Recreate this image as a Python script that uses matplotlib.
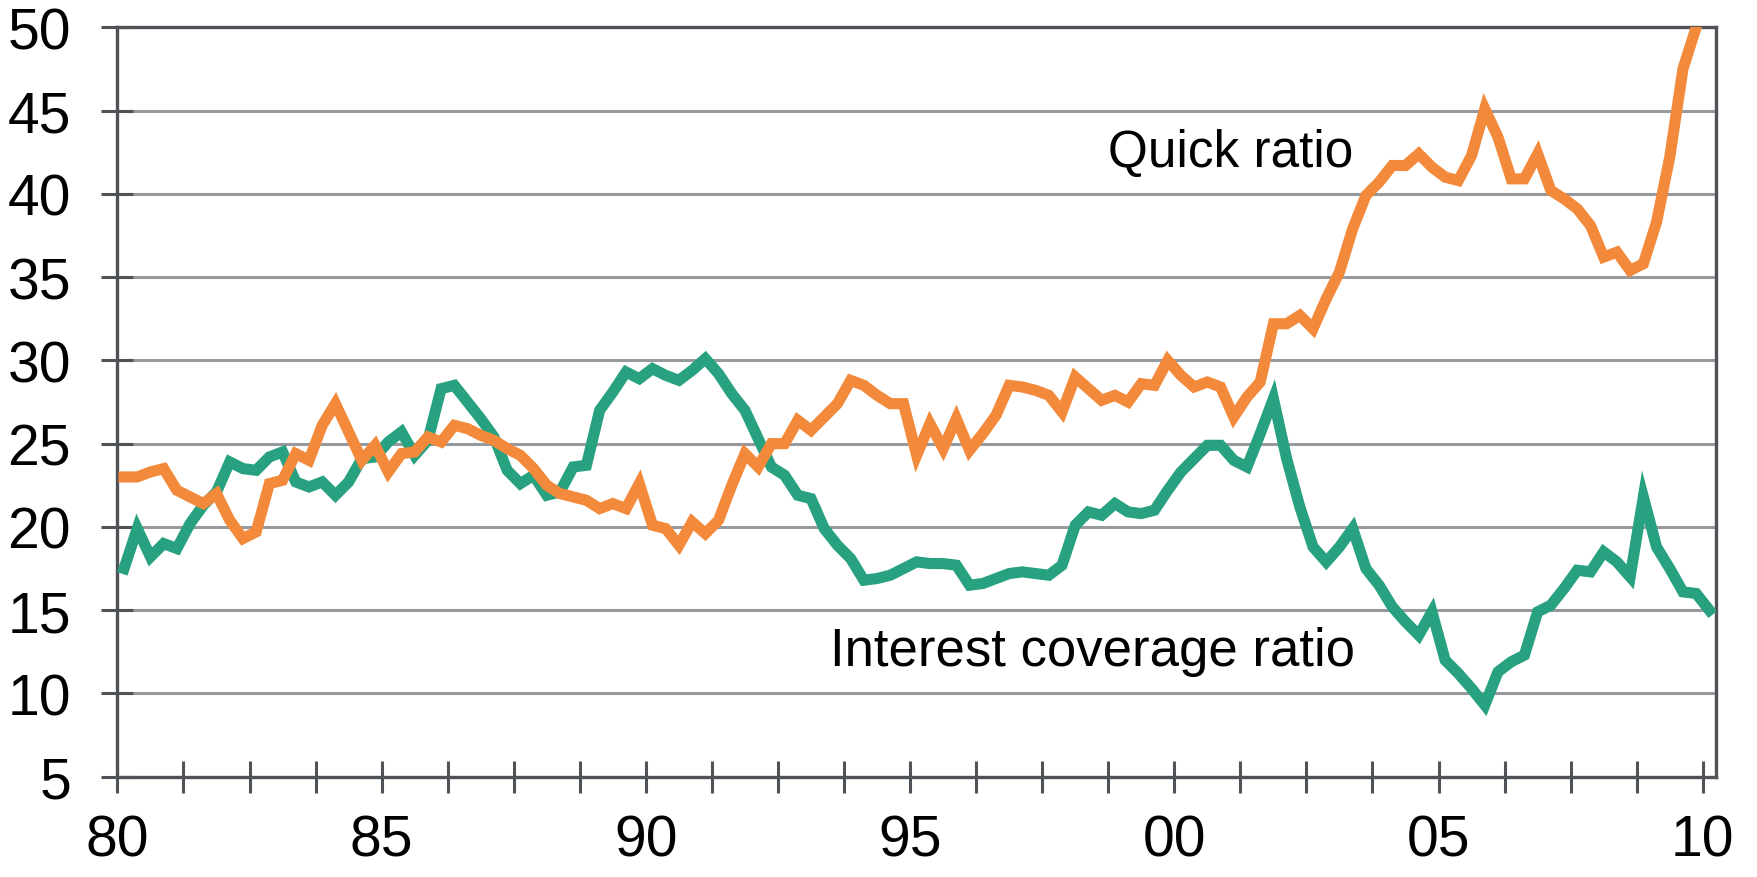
import matplotlib
matplotlib.use("Agg")
import matplotlib.pyplot as plt
import numpy as np

plt.rcParams['font.family'] = ['Liberation Sans', 'DejaVu Sans']

# quarterly, 1980Q1 .. 2010Q1
interest_cov = [17.5, 19.9, 18.2, 19.0, 18.7, 20.2, 21.3, 22.1, 23.9, 23.5,
                23.4, 24.2, 24.5, 22.7, 22.4, 22.7, 21.9, 22.7, 24.1, 24.2,
                25.1, 25.7, 24.3, 25.2, 28.3, 28.5, 27.5, 26.5, 25.4, 23.4,
                22.6, 23.1, 21.9, 22.1, 23.6, 23.7, 27.0, 28.1, 29.3, 28.9,
                29.5, 29.1, 28.8, 29.4, 30.1, 29.2, 28.0, 27.0, 25.3, 23.6,
                23.1, 21.9, 21.7, 19.9, 18.9, 18.1, 16.8, 16.9, 17.1, 17.5,
                17.9, 17.8, 17.8, 17.7, 16.5, 16.6, 16.9, 17.2, 17.3, 17.2,
                17.1, 17.7, 20.1, 20.9, 20.7, 21.4, 20.9, 20.8, 21.0, 22.2,
                23.3, 24.1, 24.9, 24.9, 24.0, 23.6, 25.6, 27.7, 24.1, 21.2,
                18.8, 17.9, 18.8, 19.9, 17.5, 16.5, 15.2, 14.3, 13.5, 14.9,
                12.0, 11.2, 10.3, 9.3, 11.3, 11.9, 12.3, 14.9, 15.3, 16.3,
                17.4, 17.3, 18.5, 17.9, 17.0, 21.8, 18.8, 17.5, 16.1, 16.0,
                15.0]

quick_ratio = [23.0, 23.0, 23.3, 23.5, 22.2, 21.8, 21.4, 22.0, 20.4, 19.3,
               19.7, 22.6, 22.8, 24.4, 24.0, 26.1, 27.4, 25.7, 24.0, 24.9,
               23.3, 24.4, 24.5, 25.4, 25.1, 26.1, 25.9, 25.5, 25.2, 24.7,
               24.3, 23.5, 22.5, 22.0, 21.8, 21.6, 21.1, 21.4, 21.1, 22.6,
               20.1, 19.9, 18.9, 20.3, 19.6, 20.4, 22.5, 24.4, 23.6, 25.0,
               25.0, 26.4, 25.8, 26.6, 27.4, 28.8, 28.5, 27.9, 27.4, 27.4,
               24.3, 26.2, 24.7, 26.5, 24.6, 25.6, 26.7, 28.5, 28.4, 28.2,
               27.9, 26.9, 29.0, 28.3, 27.6, 27.9, 27.5, 28.6, 28.5, 30.0,
               29.1, 28.4, 28.7, 28.4, 26.6, 27.8, 28.7, 32.2, 32.2, 32.7,
               31.9, 33.7, 35.3, 37.9, 39.9, 40.7, 41.7, 41.7, 42.4, 41.6,
               41.0, 40.8, 42.3, 45.1, 43.4, 40.9, 40.9, 42.4, 40.2, 39.7,
               39.1, 38.1, 36.2, 36.5, 35.4, 35.8, 38.3, 42.2, 47.5, 50.0]

year_labels = ['80', '85', '90', '95', '00', '05', '10']
y_ticks = [5, 10, 15, 20, 25, 30, 35, 40, 45, 50]

green = '#27A17F'
orange = '#F38A3B'
axcol = '#4F5256'
gridcol = '#96999D'

fig = plt.figure(figsize=(17.58, 8.78), dpi=100)
ax = fig.add_axes([0.0668, 0.1142, 0.9093, 0.8536])

x_ic = np.arange(len(interest_cov))
x_qr = np.arange(len(quick_ratio))
ax.plot(x_ic, interest_cov, color=green, lw=8.0, solid_joinstyle='miter', zorder=3)
ax.plot(x_qr, quick_ratio, color=orange, lw=8.0, solid_joinstyle='miter', zorder=3)

ax.set_xlim(-0.5, 120.5)
ax.set_ylim(5, 50)

# ticks every 5 quarters, labels every 5 years
tick_pos = np.arange(-0.5, 120, 5)
tick_lab = []
for k in range(len(tick_pos)):
    if k % 4 == 0:
        tick_lab.append(year_labels[k // 4])
    else:
        tick_lab.append('')
ax.set_xticks(tick_pos)
ax.set_xticklabels(tick_lab)
ax.set_yticks(y_ticks)

ax.tick_params(axis='both', direction='inout', length=23, width=2.2,
               color=axcol, labelsize=41, labelcolor='black')
ax.tick_params(axis='x', pad=15)
ax.tick_params(axis='y', pad=22)

ax.grid(axis='y', color=gridcol, lw=2.2, zorder=1)
ax.set_axisbelow(True)
for s in ax.spines.values():
    s.set_color(axcol)
    s.set_linewidth(2.4)

ax.text(74.5, 41.7, 'Quick ratio', fontsize=37, ha='left', va='baseline')
ax.text(53.4, 11.7, 'Interest coverage ratio', fontsize=38, ha='left', va='baseline')

fig.savefig('out.png', dpi=100)
